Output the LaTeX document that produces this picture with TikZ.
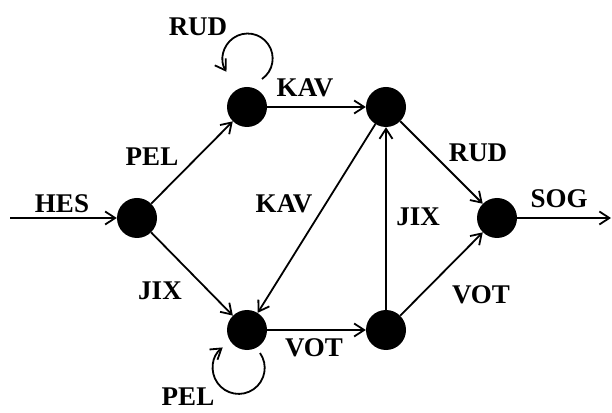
\documentclass[tikz,border=0pt]{standalone}
\usepackage{fontspec}
\setmainfont{Liberation Serif}
\usetikzlibrary{arrows.meta}

\begin{document}
\begin{tikzpicture}[x=1pt, y=1pt,
        state/.style={circle, fill=black, minimum size=40pt, inner sep=0pt},
        lbl/.style={font=\fontsize{27}{29}\selectfont\bfseries, inner sep=0pt},
        trans/.style={line width=1.8pt, -{Straight Barb[length=10pt, width=13pt, line width=1.8pt]}}]
        \useasboundingbox (0,0) rectangle (612,412);

        % 状态
        \node[state] (A) at (137,194) {};
        \node[state] (B) at (247,305) {};
        \node[state] (C) at (386,305) {};
        \node[state] (D) at (247,82) {};
        \node[state] (E) at (386,82) {};
        \node[state] (F) at (497,194) {};

        % 入口和出口
        \coordinate (start) at (10,194);
        \coordinate (stop) at (611,194);
        \draw[trans] (start) -- (A);
        \draw[trans] (F) -- (stop);

        % 转移
        \draw[trans] (A) -- (B);
        \draw[trans] (A) -- (D);
        \draw[trans] (B) -- (C);
        \draw[trans] (C) -- (D);
        \draw[trans] (D) -- (E);
        \draw[trans] (E) -- (C);
        \draw[trans] (C) -- (F);
        \draw[trans] (E) -- (F);

        % 自环
        \draw[trans] ([shift={(15,28)}]B.center) arc[start angle=-55, end angle=212, radius=25];
        \draw[trans] ([shift={(13,-23)}]D.center) arc[start angle=35, end angle=-232, radius=26];

        % 标签
        \node[lbl] (lhes) at (62,208) {HES};
        \node[lbl] (lpel1) at (152,255) {PEL};
        \node[lbl] (lrud1) at (198,385) {RUD};
        \node[lbl] (lkav1) at (305,324) {KAV};
        \node[lbl] (lkav2) at (284,208) {KAV};
        \node[lbl] (lrud2) at (478,259) {RUD};
        \node[lbl] (lsog) at (559,213) {SOG};
        \node[lbl] (ljix1) at (418,195) {JIX};
        \node[lbl] (ljix2) at (160,121) {JIX};
        \node[lbl] (lvot1) at (314,64) {VOT};
        \node[lbl] (lvot2) at (481,117) {VOT};
        \node[lbl] (lpel2) at (188,15) {PEL};
\end{tikzpicture}
\end{document}
